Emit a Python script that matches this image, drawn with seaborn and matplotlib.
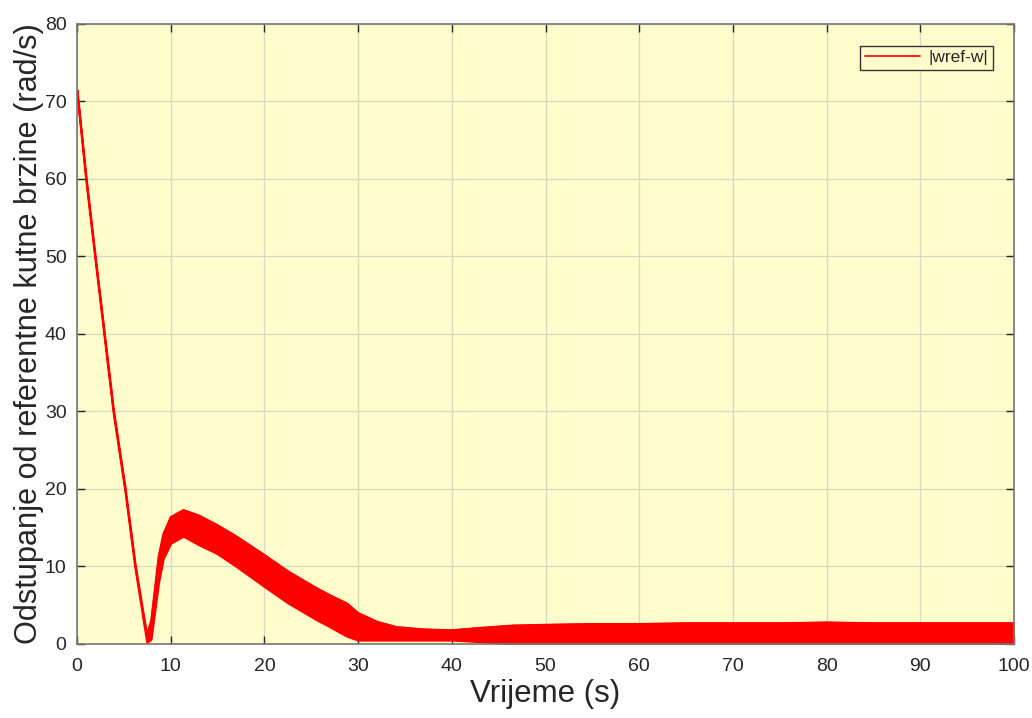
import numpy as np
import pandas as pd
import matplotlib
matplotlib.use('Agg')
import matplotlib.pyplot as plt
import seaborn as sns

# envelope of the noisy |wref-w| signal
time_s = [0, 0.96, 1.92, 2.9, 3.88, 5.12, 6.19, 7.0, 7.45, 7.9, 8.7, 9.2, 10,
          11.35, 13, 14.9, 17, 20, 22.5, 25.6, 27, 28.8, 30, 32, 34.1, 37, 40,
          43, 46.5, 50, 55, 60, 65, 70, 75, 80, 85, 90, 95, 100]
upper = [71.5, 60.3, 50.3, 40.3, 30.3, 20.3, 10.4, 4.4, 1.2, 3.0, 11.3, 14.2, 16.4,
         17.3, 16.6, 15.4, 13.9, 11.5, 9.4, 7.2, 6.3, 5.25, 4.0, 2.9, 2.2, 1.9, 1.8,
         2.1, 2.4, 2.5, 2.6, 2.6, 2.7, 2.7, 2.7, 2.8, 2.7, 2.7, 2.7, 2.7]
lower = [71.0, 59.7, 49.7, 39.7, 29.7, 19.7, 9.8, 3.6, 0.2, 0.6, 7.9, 11.0, 13.0,
         13.9, 12.8, 11.7, 10.0, 7.4, 5.3, 3.1, 2.2, 1.0, 0.5, 0.5, 0.5, 0.5, 0.5,
         0.3, 0.0, 0.0, 0.0, 0.0, 0.0, 0.0, 0.0, 0.0, 0.0, 0.0, 0.0, 0.0]

df = pd.DataFrame({'t': time_s, 'hi': upper, 'lo': lower})

sns.set_style('ticks')
plt.rcParams['font.family'] = ['Liberation Sans', 'DejaVu Sans']

fig = plt.figure(figsize=(10.32, 7.18), dpi=100)
ax = fig.add_axes([0.0746, 0.1031, 0.9080, 0.8635])
ax.set_facecolor('#FFFDCC')

ax.fill_between(df['t'], df['lo'], df['hi'], color='red', linewidth=1.5, edgecolor='red')
sns.lineplot(data=df, x='t', y='hi', color='red', linewidth=1.2, label='|wref-w|', ax=ax)

ax.set_xlim(0, 100)
ax.set_ylim(0, 80)
ax.set_xticks(range(0, 101, 10))
ax.set_yticks(range(0, 81, 10))
ax.grid(True, color='#d8d8c2', linewidth=0.9)
ax.set_axisbelow(True)
ax.tick_params(direction='in', top=True, right=True, length=6, width=1,
               labelsize=14, colors='#262626')
ax.tick_params(axis='x', pad=10)
ax.tick_params(axis='y', pad=7.5)
for s in ax.spines.values():
    s.set_color('#777777')
    s.set_linewidth(1.2)

ax.set_xlabel('Vrijeme (s)', fontsize=22.5, color='#262626', labelpad=3)
ax.set_ylabel('Odstupanje od referentne kutne brzine (rad/s)', fontsize=22.1,
              color='#262626', labelpad=0.5)

leg = ax.legend(loc='upper right', bbox_to_anchor=(0.9776, 0.9645), fontsize=12.5,
                fancybox=False, framealpha=1, facecolor='#FFFDCC',
                edgecolor='#333333', handlelength=3.2, borderpad=0.25,
                handletextpad=0.5, borderaxespad=0)
leg.get_frame().set_linewidth(1.0)

fig.savefig('out.png', dpi=100)
